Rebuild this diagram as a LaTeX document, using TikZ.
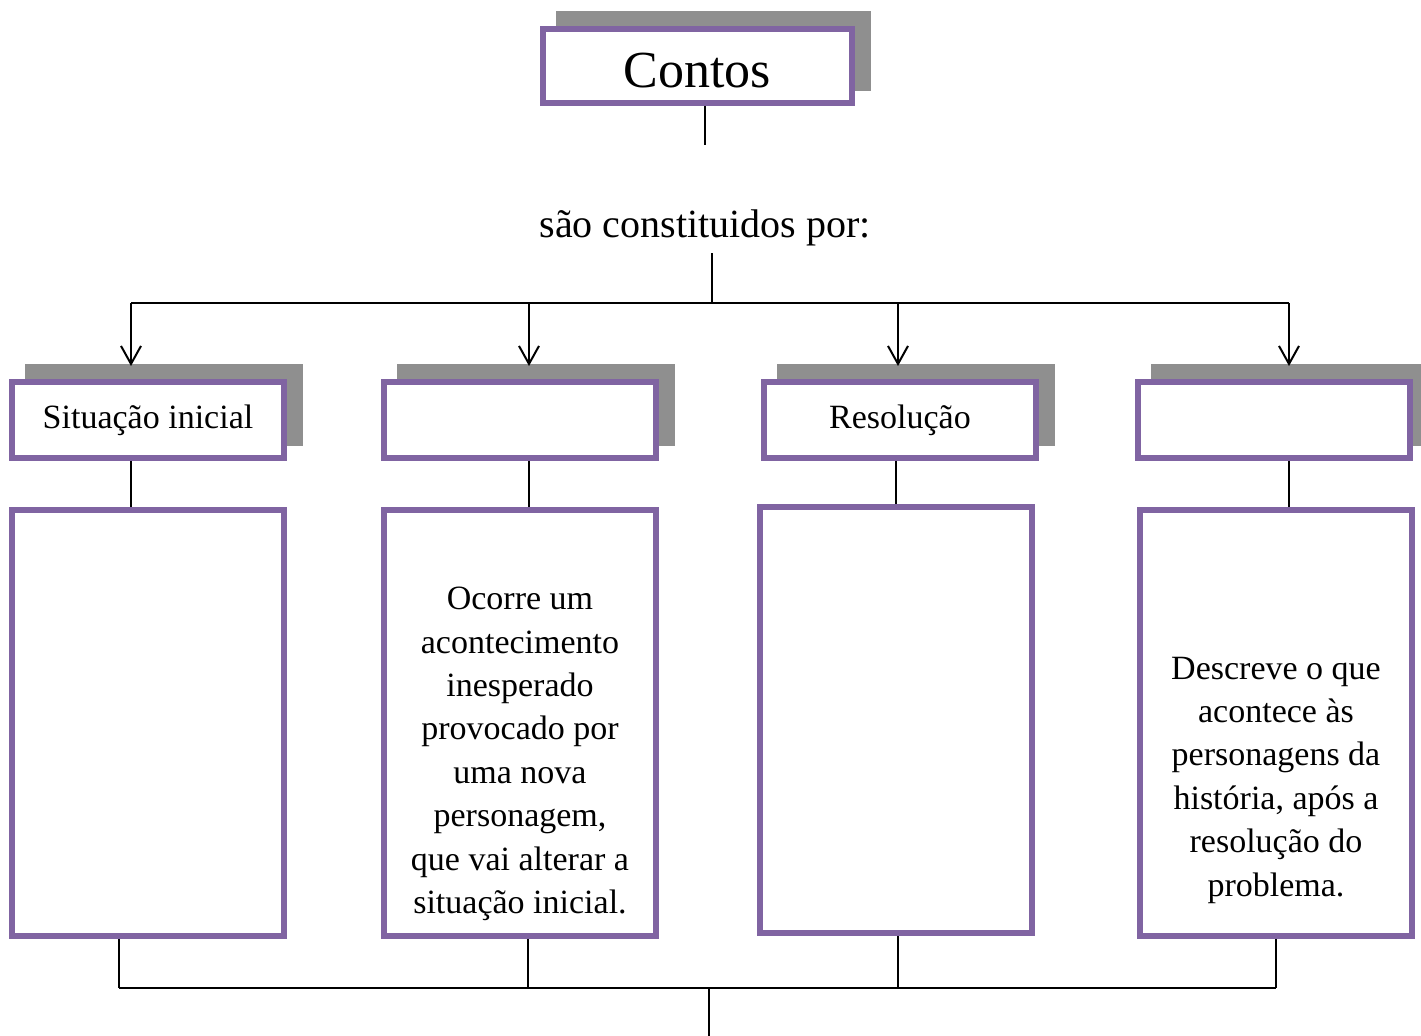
\documentclass[tikz,border=0pt]{standalone}
\usepackage{fontspec}
\setmainfont{Liberation Serif}
\usetikzlibrary{arrows.meta,shadows}
\definecolor{boxpurple}{RGB}{128,100,162}
\definecolor{shadowgray}{RGB}{143,143,143}
\tikzset{
  box/.style={rectangle,draw=boxpurple,line width=3pt,fill=white,inner sep=0pt,
    general shadow={fill=shadowgray,draw=shadowgray,line width=3pt,shadow xshift=8pt,shadow yshift=7.5pt}},
  headbox/.style={box,minimum width=136pt,minimum height=38pt,font=\fontsize{17}{21.7}\selectfont},
  bodybox/.style={rectangle,draw=boxpurple,line width=3pt,minimum width=136pt,minimum height=213pt},
  bodytext/.style={align=center,font=\fontsize{17}{21.7}\selectfont},
  link/.style={line width=1pt},
  arr/.style={link,-{Straight Barb[length=9pt,width=10pt]},shorten >=6.5pt},
}
\begin{document}
\begin{tikzpicture}[x=0.5pt,y=-0.5pt]
\useasboundingbox (0,0) rectangle (1421,1036);
% \draw[help lines,step=100] (0,0) grid (1421,1036);
\node (contos) [box,minimum width=154.5pt,minimum height=37pt,text height=22pt,font=\fontsize{26}{30}\selectfont] at (697.5,66) {Contos};
\node (constit) [font=\fontsize{20}{24}\selectfont] at (705,228) {são constituidos por:};
%
\node (h1) [headbox] at (148,420) {Situação inicial};
\node (h2) [headbox] at (520,420) {};
\node (h3) [headbox] at (900,420) {Resolução};
\node (h4) [headbox] at (1274,420) {};
%
\node (b1) [bodybox] at (148,723) {};
\node (b2) [bodybox] at (520,723) {};
\node (b3) [bodybox] at (896,720.5) {};
\node (b4) [bodybox] at (1276,723) {};
\node (b2txt) [bodytext] at (520,754) {Ocorre um\\ acontecimento\\ inesperado\\ provocado por\\ uma nova\\ personagem,\\ que vai alterar a\\ situação inicial.};
\node (b4txt) [bodytext] at (1276,780) {Descreve o que\\ acontece às\\ personagens da\\ história, após a\\ resolução do\\ problema.};
%
\coordinate (c0) at (705,145);
\coordinate (bar) at (712,303);
\coordinate (t1) at (131,303);
\coordinate (t2) at (529,303);
\coordinate (t3) at (898,303);
\coordinate (t4) at (1289,303);
\draw[link] (contos.south -| c0) -- (c0);
\draw[link] (constit.south -| bar) -- (bar);
\draw[link] (t1) -- (t4);
\draw[arr] (t1) -- (t1 |- h1.north);
\draw[arr] (t2) -- (t2 |- h2.north);
\draw[arr] (t3) -- (t3 |- h3.north);
\draw[arr] (t4) -- (t4 |- h4.north);
%
\draw[link] (h1.south -| t1) -- (b1.north -| t1);
\draw[link] (h2.south -| t2) -- (b2.north -| t2);
\draw[link] (h3.south -| b3) -- (b3.north);
\draw[link] (h4.south -| t4) -- (b4.north -| t4);
%
\coordinate (u1) at (119,988);
\coordinate (u2) at (528,988);
\coordinate (u3) at (898,988);
\coordinate (u4) at (1276,988);
\coordinate (mid) at (709,988);
\coordinate (out) at (709,1036);
\draw[link] (b1.south -| u1) -- (u1);
\draw[link] (b2.south -| u2) -- (u2);
\draw[link] (b3.south -| u3) -- (u3);
\draw[link] (b4.south -| u4) -- (u4);
\draw[link] (u1) -- (u4);
\draw[link] (mid) -- (out);
\end{tikzpicture}
\end{document}
